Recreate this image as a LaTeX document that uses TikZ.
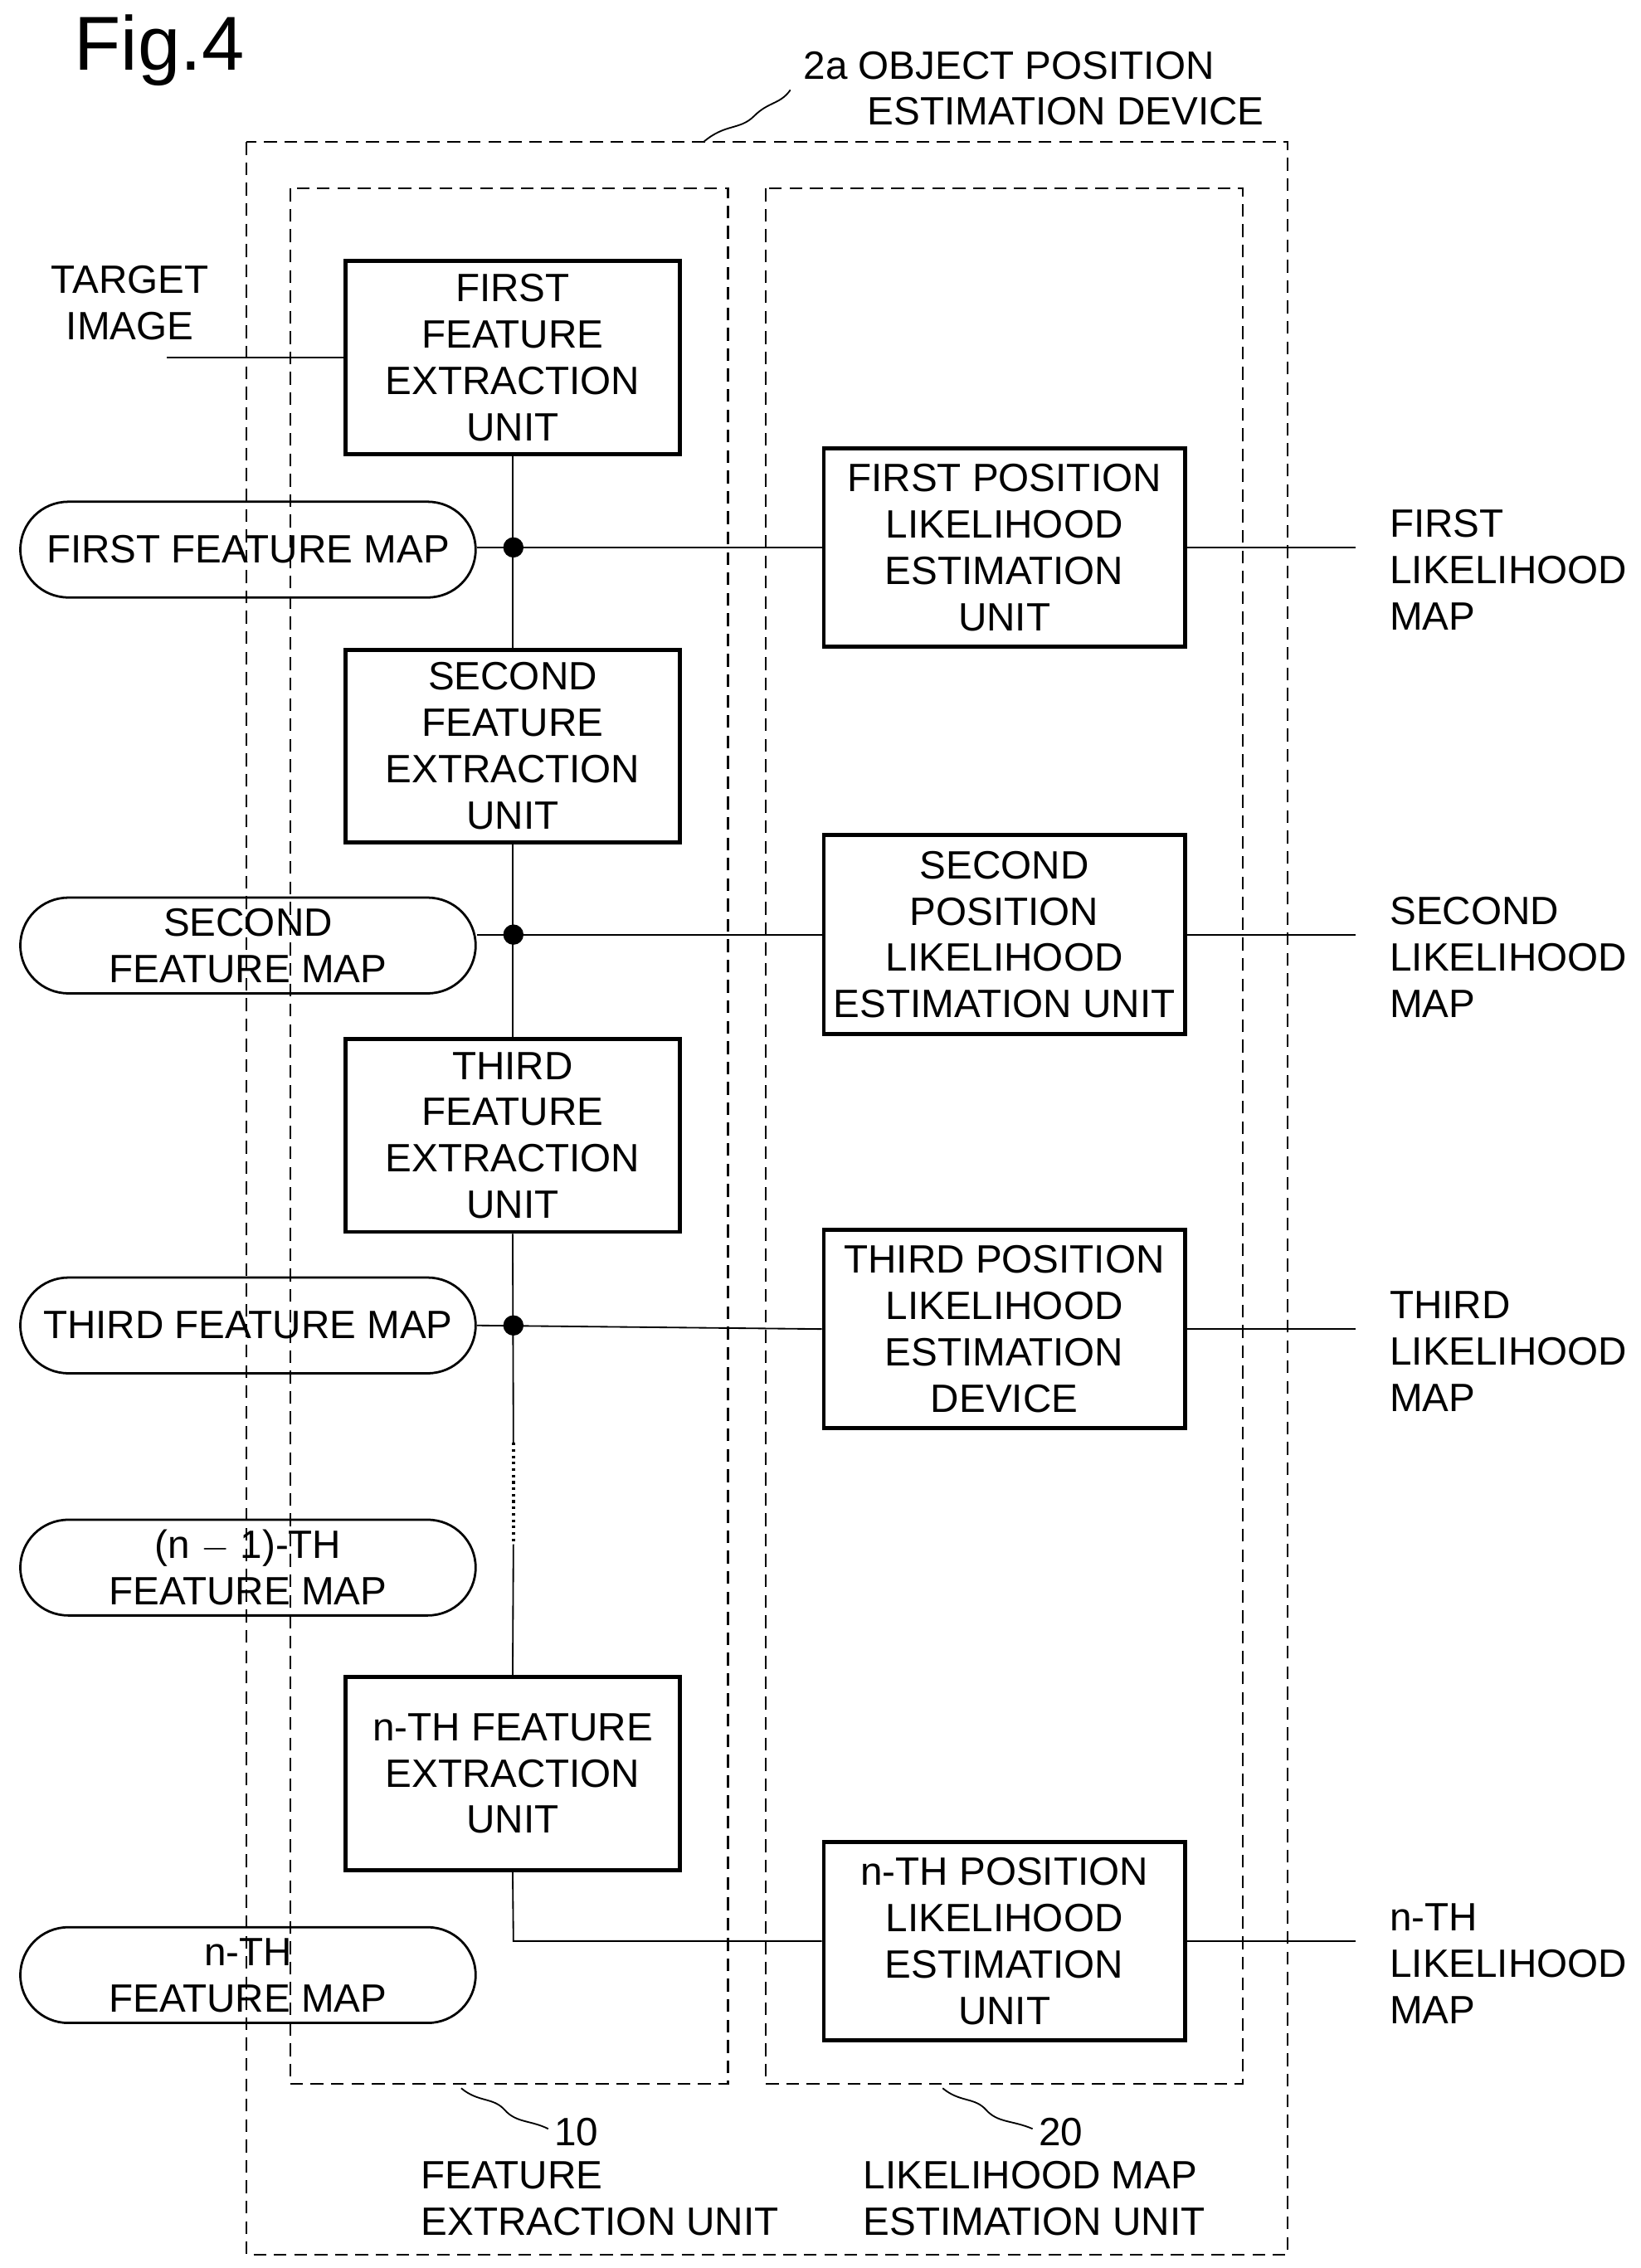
\documentclass[tikz,border=0pt]{standalone}
\usepackage{fontspec}
\setmainfont{Liberation Sans}
\usetikzlibrary{calc}
\begin{document}
\begin{tikzpicture}[x=0.02cm,y=-0.02cm,
  every node/.style={font=\fontsize{15.5}{18.2}\selectfont},
  dsh/.style={dash pattern=on 5pt off 3pt, line width=0.7pt},
  fe/.style={draw,line width=1.6pt,minimum width=4.62cm,minimum height=2.66cm,align=center,inner sep=0pt},
  le/.style={draw,line width=1.6pt,minimum width=4.98cm,minimum height=2.74cm,align=center,inner sep=0pt},
  capsule/.style={draw,line width=0.9pt,minimum width=6.28cm,minimum height=1.32cm,rounded corners=0.66cm,align=center,inner sep=0pt},
  ln/.style={line width=0.6pt},
  lab/.style={align=left,anchor=west,inner sep=0pt}]
\useasboundingbox (0,0) rectangle (1131,1564);
\node[anchor=west,font=\fontsize{30}{34}\selectfont] (fig) at (45,35) {Fig.4};
\draw[dsh] (170,98) rectangle (888,1555);
\draw[dsh] (200,130) rectangle (502,1437);
\draw[dsh] (528,130) rectangle (857,1437);
\node[align=left,anchor=west] (dev) at (548,61) {2a OBJECT POSITION\\\hspace*{0.88cm}ESTIMATION DEVICE};
\coordinate (s0) at (485,98);
\draw[ln] (s0) .. controls (500,85) and (510,90) .. (520,80) .. controls (530,70) and (538,72) .. (545,62);
\node[fe] (fe1) at (353.5,246.5) {FIRST\\FEATURE\\EXTRACTION\\UNIT};
\node[fe] (fe2) at (353.5,514.5) {SECOND\\FEATURE\\EXTRACTION\\UNIT};
\node[fe] (fe3) at (353.5,783) {THIRD\\FEATURE\\EXTRACTION\\UNIT};
\node[fe] (fen) at (353.5,1223) {n-TH FEATURE\\EXTRACTION\\UNIT};
\node[le] (le1) at (692.5,377.5) {FIRST POSITION\\LIKELIHOOD\\ESTIMATION\\UNIT};
\node[le] (le2) at (692.5,644.5) {SECOND\\POSITION\\LIKELIHOOD\\ESTIMATION UNIT};
\node[le] (le3) at (692.5,916.5) {THIRD POSITION\\LIKELIHOOD\\ESTIMATION\\DEVICE};
\node[le] (len) at (692.5,1338.5) {n-TH POSITION\\LIKELIHOOD\\ESTIMATION\\UNIT};
\node[capsule] (fm1) at (171,379) {FIRST FEATURE MAP};
\node[capsule] (fm2) at (171,652) {SECOND\\FEATURE MAP};
\node[capsule] (fm3) at (171,914) {THIRD FEATURE MAP};
\node[capsule] (fmm) at (171,1081) {(n $-$ 1)-TH\\FEATURE MAP};
\node[capsule] (fmn) at (171,1362) {n-TH\\FEATURE MAP};
\node[align=center,anchor=east] (ti) at (150,209) {TARGET\\IMAGE};
\coordinate (tiw) at (115,246.5);
\draw[ln] (tiw) -- (fe1.west);
\coordinate (d1) at (354,377.5);
\coordinate (d2) at (354,644.5);
\coordinate (d3) at (354,914);
\coordinate (v1) at (354,995);
\coordinate (v2) at (354,1065);
\coordinate (nb) at (354,1338.5);
\draw[ln] (fe1.south) -- (fe2.north);
\draw[ln] (fe2.south) -- (fe3.north);
\draw[ln] (fe3.south) -- (v1);
\draw[line width=1.5pt,dash pattern=on 1pt off 1.5pt] (v1) -- (v2);
\draw[ln] (v2) -- (fen.north);
\draw[ln] (fen.south) -- (nb) -- (len.west);
\draw[ln] (fm1.east|-d1) -- (le1.west);
\draw[ln] (fm2.east|-d2) -- (le2.west);
\draw[ln] (fm3.east|-d3) -- (le3.west);
\foreach \d in {d1,d2,d3} \fill (\d) circle (7);
\coordinate (o1) at (935,377.5);
\coordinate (o2) at (935,644.5);
\coordinate (o3) at (935,916.5);
\coordinate (on) at (935,1338.5);
\draw[ln] (le1.east) -- (o1);
\draw[ln] (le2.east) -- (o2);
\draw[ln] (le3.east) -- (o3);
\draw[ln] (len.east) -- (on);
\node[lab] (l1) at (958,393) {FIRST\\LIKELIHOOD\\MAP};
\node[lab] (l2) at (958,660) {SECOND\\LIKELIHOOD\\MAP};
\node[lab] (l3) at (958,932) {THIRD\\LIKELIHOOD\\MAP};
\node[lab] (lnn) at (958,1354) {n-TH\\LIKELIHOOD\\MAP};
\draw[ln] (318,1440) .. controls (330,1450) and (340,1446) .. (348,1455) .. controls (356,1464) and (366,1462) .. (378,1468);
\node[lab] (n10) at (382,1470) {10};
\node[lab] (t10) at (290,1516) {FEATURE\\EXTRACTION UNIT};
\draw[ln] (650,1440) .. controls (662,1450) and (672,1446) .. (680,1455) .. controls (688,1464) and (698,1462) .. (712,1468);
\node[lab] (n20) at (716,1470) {20};
\node[lab] (t20) at (595,1516) {LIKELIHOOD MAP\\ESTIMATION UNIT};
\end{tikzpicture}
\end{document}
